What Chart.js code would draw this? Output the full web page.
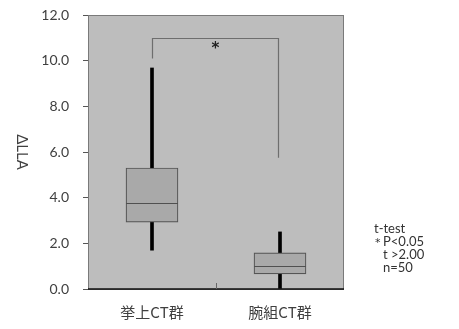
<!DOCTYPE html>
<html><head><meta charset="utf-8">
<script src="https://cdn.jsdelivr.net/npm/chart.js@4/dist/chart.umd.min.js"></script>
<style>html,body{margin:0;padding:0;background:#fff}#w{width:459px;height:329px}</style>
</head><body><div id="w"><canvas id="c" width="459" height="329"></canvas></div>
<script>
const categories = ['挙上CT群', '腕組CT群'];
const whiskerMin = [1.7, 0.0];
const q1 = [2.93, 0.66];
const median = [3.77, 1.0];
const q3 = [5.3, 1.58];
const whiskerMax = [9.68, 2.5];
const yTicks = [0, 2, 4, 6, 8, 10, 12];
const bracketTop = 11.0;
const bracketLeftEnd = 10.1;
const bracketRightEnd = 5.75;
const noteLines = ['t-test', '\uFF0AP<0.05', '  t >2.00', '  n=50'];
const yTitle = 'ΔLLA';

const extras = {
  id: 'extras',
  beforeDraw(chart) {
    const {ctx, chartArea: a} = chart;
    ctx.save();
    ctx.fillStyle = '#bdbdbd';
    ctx.fillRect(a.left, a.top, a.right - a.left, a.bottom - a.top);
    ctx.restore();
  },
  afterDatasetsDraw(chart) {
    const {ctx, chartArea: a, scales} = chart;
    const x = scales.x, y = scales.y;
    ctx.save();
    const meta = chart.getDatasetMeta(0);
    meta.data.forEach((bar, i) => {
      const half = bar.width / 2;
      const py = Math.round(y.getPixelForValue(median[i])) + 0.5;
      ctx.strokeStyle = '#505050'; ctx.lineWidth = 1.2;
      ctx.beginPath(); ctx.moveTo(bar.x - half, py); ctx.lineTo(bar.x + half, py); ctx.stroke();
    });
    ctx.strokeStyle = '#7a7a7a'; ctx.lineWidth = 1;
    ctx.strokeRect(a.left + 0.5, a.top + 0.5, a.right - a.left - 1, a.bottom - a.top);
    ctx.strokeStyle = '#111'; ctx.lineWidth = 1.5;
    ctx.beginPath(); ctx.moveTo(a.left, a.bottom); ctx.lineTo(a.right, a.bottom); ctx.stroke();
    const mid = (x.getPixelForValue(0) + x.getPixelForValue(1)) / 2;
    ctx.strokeStyle = '#666'; ctx.lineWidth = 1;
    ctx.beginPath(); ctx.moveTo(Math.round(mid) + 0.5, a.bottom); ctx.lineTo(Math.round(mid) + 0.5, a.bottom - 6); ctx.stroke();
    const x0 = Math.round(x.getPixelForValue(0)) + 0.5;
    const x1 = Math.round(x.getPixelForValue(1)) - 1.5;
    const yt = Math.round(y.getPixelForValue(bracketTop)) + 0.5;
    ctx.strokeStyle = '#6e6e6e'; ctx.lineWidth = 1.2;
    ctx.beginPath();
    ctx.moveTo(x0, y.getPixelForValue(bracketLeftEnd));
    ctx.lineTo(x0, yt); ctx.lineTo(x1, yt);
    ctx.lineTo(x1, y.getPixelForValue(bracketRightEnd));
    ctx.stroke();
    ctx.fillStyle = '#222';
    ctx.font = 'bold 15px "DejaVu Sans"';
    ctx.textAlign = 'center'; ctx.textBaseline = 'middle';
    ctx.fillText('*', (x0 + x1) / 2, yt + 11);
    ctx.save();
    ctx.translate(22, (a.top + a.bottom) / 2);
    ctx.rotate(Math.PI / 2);
    ctx.fillStyle = '#404040';
    ctx.font = '15px Lato';
    ctx.textAlign = 'center'; ctx.textBaseline = 'middle';
    ctx.fillText(yTitle, 0, 0);
    ctx.restore();
    ctx.fillStyle = '#333';
    ctx.font = '13px Lato';
    ctx.textAlign = 'left'; ctx.textBaseline = 'middle';
    noteLines.forEach((t, i) => {
      const yy = 229 + i * 13;
      if (t.startsWith('\uFF0A')) {
        ctx.font = '11px "DejaVu Sans"';
        ctx.fillText('*', 375, yy + 1);
        ctx.font = '13px Lato';
        ctx.fillText(t.slice(1), 383, yy);
      } else {
        ctx.fillText(t.replace(/^  /, ''), t.startsWith('  ') ? 383 : 374, yy);
      }
    });
    ctx.restore();
  }
};

new Chart(document.getElementById('c'), {
  type: 'bar',
  data: {
    labels: categories,
    datasets: [
      {
        data: categories.map((_, i) => [q1[i], q3[i]]),
        backgroundColor: '#a9a9a9', borderColor: '#555', borderWidth: 1.2,
        borderSkipped: false, barThickness: 52, grouped: false
      },
      {
        data: categories.map((_, i) => [whiskerMin[i], whiskerMax[i]]),
        backgroundColor: '#000', borderWidth: 0, barThickness: 3, grouped: false
      }
    ]
  },
  plugins: [extras],
  options: {
    responsive: false, animation: false,
    layout: {padding: {top: 15, right: 115, left: 0, bottom: 0}},
    plugins: {legend: {display: false}, tooltip: {enabled: false}},
    scales: {
      x: {
        grid: {display: false}, border: {display: false},
        ticks: {color: '#404040', font: {family: '"Noto Sans CJK JP"', size: 15}, padding: 6},
        afterFit(s) { s.height = 40; s.paddingLeft = 0; s.paddingRight = 0; }
      },
      y: {
        min: 0, max: 12,
        afterBuildTicks(s) { s.ticks = yTicks.map(v => ({value: v})); },
        grid: {drawOnChartArea: false, tickLength: 5, color: '#555'},
        border: {display: false},
        ticks: {color: '#404040', font: {family: 'Lato', size: 14}, padding: 14,
          callback: v => Number(v).toFixed(1)},
        afterFit(s) { s.width = 88; s.paddingTop = 0; s.paddingBottom = 0; }
      }
    }
  }
});
</script></body></html>
